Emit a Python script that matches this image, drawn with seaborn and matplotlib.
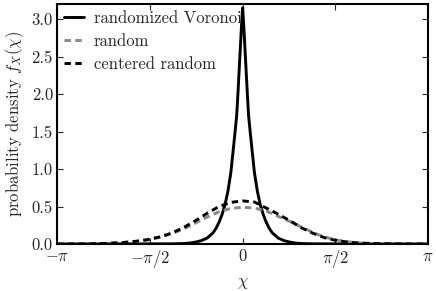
import numpy as np
import pandas as pd
import matplotlib
matplotlib.use('Agg')
import matplotlib.pyplot as plt
import seaborn as sns

# values
voronoi_x = [-np.pi, -1.2, -1.0, -0.9, -0.8, -0.7, -0.6, -0.5, -0.45, -0.4, -0.35,
             -0.3, -0.25, -0.2, -0.16, -0.13, -0.1, -0.08, -0.06, -0.04, -0.02,
             0.0, 0.02, 0.04, 0.06, 0.08, 0.1, 0.13, 0.16, 0.2, 0.25, 0.3, 0.35,
             0.4, 0.45, 0.5, 0.6, 0.7, 0.8, 0.9, 1.0, 1.2, np.pi]
voronoi_y = [0.0, 0.002, 0.006, 0.012, 0.025, 0.045, 0.08, 0.15, 0.21, 0.29, 0.39,
             0.52, 0.7, 0.95, 1.25, 1.48, 1.72, 2.0, 2.3, 2.6, 2.9,
             3.15, 2.9, 2.6, 2.3, 2.0, 1.72, 1.48, 1.25, 0.95, 0.7, 0.52, 0.39,
             0.29, 0.21, 0.15, 0.08, 0.045, 0.025, 0.012, 0.006, 0.002, 0.0]

dash_x = [-np.pi, -2.6, -2.3, -2.0, -1.8, -1.6, -1.4, -1.2, -1.0, -0.8, -0.6,
          -0.4, -0.2, 0.0, 0.2, 0.4, 0.6, 0.8, 1.0, 1.2, 1.4, 1.6, 1.8, 2.0,
          2.3, 2.6, np.pi]
random_y = [0.0, 0.002, 0.008, 0.02, 0.034, 0.055, 0.09, 0.14, 0.2, 0.28, 0.36,
            0.43, 0.475, 0.49, 0.48, 0.44, 0.37, 0.3, 0.225, 0.15, 0.09, 0.052, 0.028, 0.014,
            0.005, 0.002, 0.0]
centered_y = [0.0, 0.002, 0.008, 0.022, 0.037, 0.06, 0.095, 0.145, 0.22, 0.31, 0.41,
              0.5, 0.555, 0.575, 0.56, 0.48, 0.4, 0.31, 0.215, 0.14, 0.08, 0.045, 0.024, 0.012,
              0.004, 0.001, 0.0]

tick_pos = [-np.pi, -np.pi/2, 0, np.pi/2, np.pi]
tick_labels = [r'$-\pi$', r'$-\pi/2$', r'$0$', r'$\pi/2$', r'$\pi$']

sns.set_style('ticks', {'xtick.direction': 'in', 'ytick.direction': 'in',
                        'xtick.top': True, 'ytick.right': True,
                        'axes.edgecolor': 'black'})
plt.rcParams['font.family'] = ['cmr10', 'DejaVu Serif']
plt.rcParams['mathtext.fontset'] = 'cm'
plt.rcParams['axes.formatter.use_mathtext'] = True
plt.rcParams['axes.unicode_minus'] = False

fig = plt.figure(figsize=(4.36, 2.91), dpi=100)
ax = fig.add_axes([0.131, 0.1615, 0.851, 0.8245])

vor = pd.DataFrame({'x': voronoi_x, 'y': voronoi_y})
rnd = pd.DataFrame({'x': dash_x, 'y': random_y})
cen = pd.DataFrame({'x': dash_x, 'y': centered_y})

sns.lineplot(data=vor, x='x', y='y', ax=ax, color='black', lw=2.1,
             label='randomized Voronoi', sort=False)
sns.lineplot(data=rnd, x='x', y='y', ax=ax, color='#888888', lw=2.1,
             label='random', sort=False)
ax.lines[-1].set_dashes([2.2, 1.5])
sns.lineplot(data=cen, x='x', y='y', ax=ax, color='black', lw=2.1,
             label='centered random', sort=False)
ax.lines[-1].set_dashes([2.2, 1.5])

ax.set_xlim(-np.pi, np.pi)
ax.set_ylim(0, 3.2)
ax.set_xticks(tick_pos)
ax.set_xticklabels(tick_labels)
ax.set_yticks([0.0, 0.5, 1.0, 1.5, 2.0, 2.5, 3.0])
ax.set_yticklabels(['0.0', '0.5', '1.0', '1.5', '2.0', '2.5', '3.0'])
ax.tick_params(labelsize=12, length=4, width=0.8, pad=3)
ax.set_xlabel(r'$\chi$', fontsize=12)
ax.set_ylabel(r'probability density $f_X(\chi)$', fontsize=12)
for s in ax.spines.values():
    s.set_linewidth(1.5)

ax.legend(loc='upper left', frameon=False, fontsize=12, handlelength=1.2,
          handletextpad=0.6, labelspacing=0.45, borderaxespad=0.2, borderpad=0.2)

fig.savefig('out.png', dpi=100)
